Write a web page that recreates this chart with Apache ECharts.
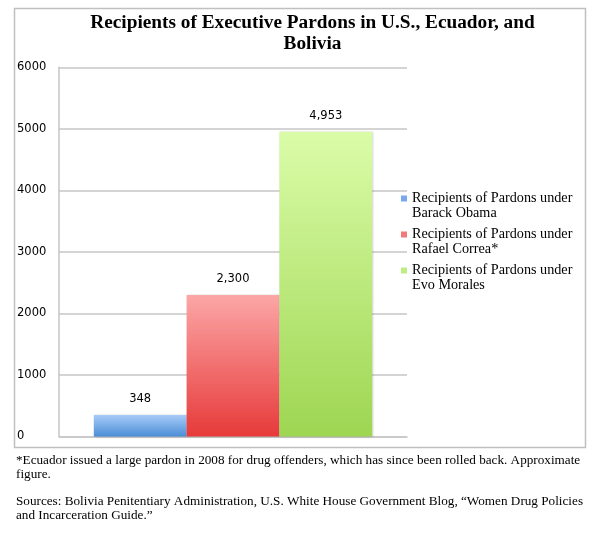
<!DOCTYPE html>
<html>
<head>
<meta charset="utf-8">
<script src="https://cdn.jsdelivr.net/npm/echarts@6/dist/echarts.min.js"></script>
<style>
html,body{margin:0;padding:0;background:#fff;}
#chart{width:598px;height:533px;}
</style>
</head>
<body>
<div id="chart"></div>
<script>
var categories = [''];
var seriesNames = [
  'Recipients of Pardons under\nBarack Obama',
  'Recipients of Pardons under\nRafael Correa*',
  'Recipients of Pardons under\nEvo Morales'
];
var obamaValues = [348];
var correaValues = [2300];
var moralesValues = [4953];
var yTicks = [0, 1000, 2000, 3000, 4000, 5000, 6000];
var titleText = 'Recipients of Executive Pardons in U.S., Ecuador, and\nBolivia';
var footnoteText = '*Ecuador issued a large pardon in 2008 for drug offenders, which has since been rolled back. Approximate\nfigure.';
var sourceText = 'Sources: Bolivia Penitentiary Administration, U.S. White House Government Blog, \u201cWomen Drug Policies\nand Incarceration Guide.\u201d';

function grad(top, bottom) {
  return new echarts.graphic.LinearGradient(0, 0, 0, 1, [
    {offset: 0, color: top}, {offset: 1, color: bottom}
  ]);
}
var styles = [
  {top: '#a8cbf8', bottom: '#4a8ed6', legend: '#78a8ea'},
  {top: '#fca6a6', bottom: '#e73a3a', legend: '#f07a7a'},
  {top: '#dafca8', bottom: '#9ed652', legend: '#bdee86'}
];
var valuesList = [obamaValues, correaValues, moralesValues];

var iconPath = 'path://M0,4.5L6,4.5L6,10.5L0,10.5Z M0,0L6,0 M0,30L6,30';

var chart = echarts.init(document.getElementById('chart'), null, {renderer: 'canvas'});
var option = {
  animation: false,
  backgroundColor: '#fff',
  grid: {left: 59, top: 67.3, right: 191, bottom: 96.5, containLabel: false},
  xAxis: {
    type: 'category',
    data: categories,
    axisLine: {show: true, lineStyle: {color: '#c6c6c6', width: 1.5}},
    axisTick: {show: false},
    axisLabel: {show: false},
    splitLine: {show: false}
  },
  yAxis: {
    type: 'value',
    min: yTicks[0],
    max: yTicks[yTicks.length - 1],
    interval: 1000,
    axisLine: {show: true, lineStyle: {color: '#c6c6c6', width: 1.5}},
    axisTick: {show: false},
    axisLabel: {
      align: 'left', margin: 42, color: '#000',
      fontFamily: 'DejaVu Sans', fontSize: 11.5, padding: [6, 0, 0, 0],
      formatter: function (v) { return String(v); }
    },
    splitLine: {show: true, lineStyle: {color: '#c6c6c6', width: 1.5}}
  },
  legend: {
    orient: 'vertical',
    left: 401, top: 191,
    padding: 0,
    itemWidth: 6, itemHeight: 30, itemGap: 6,
    icon: iconPath,
    itemStyle: {borderWidth: 0},
    textStyle: {fontFamily: 'Liberation Serif', fontSize: 14.2, lineHeight: 15, color: '#000', padding: [0, 0, 0, 0]},
    data: seriesNames.map(function (n, i) {
      return {name: n, itemStyle: {color: styles[i].legend, borderWidth: 0}};
    }),
    selectedMode: false
  },
  series: seriesNames.map(function (name, i) {
    return {
      type: 'bar',
      name: name,
      data: valuesList[i],
      barGap: '0%',
      barCategoryGap: '20%',
      itemStyle: {
        color: grad(styles[i].top, styles[i].bottom),
        shadowColor: 'rgba(0,0,0,0.18)', shadowBlur: 2, shadowOffsetX: 1
      },
      label: {
        show: true, position: 'top', distance: 10, color: '#000',
        fontFamily: 'DejaVu Sans', fontSize: 11.5,
        formatter: function (p) { return p.value.toLocaleString('en-US'); }
      }
    };
  }),
  graphic: [
    {
      type: 'rect', silent: true, z: -1,
      shape: {x: 14.5, y: 8.5, width: 571, height: 439},
      style: {fill: 'none', stroke: '#c0c0c0', lineWidth: 1.5}
    },
    {
      type: 'text', x: 312.5, y: 13,
      style: {
        text: titleText, fill: '#000', align: 'center', verticalAlign: 'top',
        font: 'bold 19.3px "Liberation Serif"', lineHeight: 21
      }
    },
    {
      type: 'text', x: 16, y: 454,
      style: {
        text: footnoteText, fill: '#000', align: 'left', verticalAlign: 'top',
        font: '13.2px "Liberation Serif"', lineHeight: 14
      }
    },
    {
      type: 'text', x: 16, y: 495,
      style: {
        text: sourceText, fill: '#000', align: 'left', verticalAlign: 'top',
        font: '13.2px "Liberation Serif"', lineHeight: 14
      }
    }
  ]
};
chart.setOption(option);
</script>
</body>
</html>
